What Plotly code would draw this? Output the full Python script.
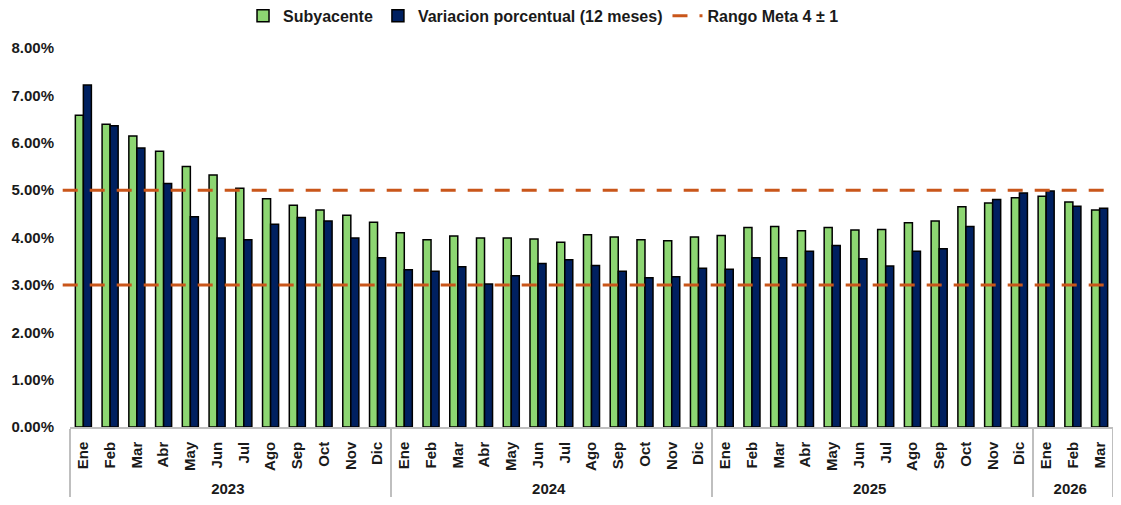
import plotly.graph_objects as go

months = ["Ene", "Feb", "Mar", "Abr", "May", "Jun", "Jul", "Ago", "Sep", "Oct", "Nov", "Dic",
          "Ene", "Feb", "Mar", "Abr", "May", "Jun", "Jul", "Ago", "Sep", "Oct", "Nov", "Dic",
          "Ene", "Feb", "Mar", "Abr", "May", "Jun", "Jul", "Ago", "Sep", "Oct", "Nov", "Dic",
          "Ene", "Feb", "Mar"]
years = ["2023"] * 12 + ["2024"] * 12 + ["2025"] * 12 + ["2026"] * 3

subyacente = [6.58, 6.39, 6.14, 5.82, 5.50, 5.32, 5.04, 4.82, 4.68, 4.58, 4.47, 4.32,
              4.10, 3.95, 4.03, 3.99, 3.99, 3.97, 3.90, 4.06, 4.01, 3.95, 3.93, 4.01,
              4.04, 4.21, 4.23, 4.14, 4.21, 4.16, 4.17, 4.31, 4.35, 4.65, 4.73, 4.84,
              4.87, 4.75, 4.58]
variacion = [7.22, 6.36, 5.89, 5.14, 4.44, 3.99, 3.95, 4.28, 4.42, 4.35, 3.99, 3.57,
             3.32, 3.29, 3.38, 3.02, 3.19, 3.45, 3.53, 3.41, 3.29, 3.15, 3.17, 3.35,
             3.33, 3.57, 3.57, 3.71, 3.83, 3.55, 3.40, 3.71, 3.76, 4.23, 4.80, 4.94,
             4.98, 4.66, 4.62]
rango_meta = [3.0, 5.0]
y_ticks = [0, 1, 2, 3, 4, 5, 6, 7, 8]
y_ticktext = [f"{v:.2f}%" for v in y_ticks]

FONT = "Liberation Sans, Arial, sans-serif"
GREEN = "#8DD672"
NAVY = "#002060"
ORANGE = "#C9561A"

fig = go.Figure()
fig.add_trace(go.Bar(
    x=[years, months], y=subyacente, name="Subyacente",
    marker=dict(color=GREEN, line=dict(color="#000000", width=1.5)),
))
fig.add_trace(go.Bar(
    x=[years, months], y=variacion, name="Variacion porcentual (12 meses)",
    marker=dict(color=NAVY, line=dict(color="#000000", width=1.5)),
))

for i, v in enumerate(rango_meta):
    fig.add_shape(
        type="line", xref="paper", yref="y", x0=-0.007, x1=1, y0=v, y1=v,
        line=dict(color=ORANGE, width=3, dash="15px,12px"),
        showlegend=(i == 0), name="Rango Meta 4 \u00b1 1", layer="above",
    )

fig.update_layout(
    width=1113, height=497,
    margin=dict(l=62, r=8, t=40, b=78, autoexpand=False),
    paper_bgcolor="white", plot_bgcolor="white",
    barmode="group", bargap=0.4, bargroupgap=0.0,
    font=dict(family=FONT, size=14, color="#1a1a1a", weight="bold"),
    legend=dict(
        orientation="h", x=0.454, xanchor="center",
        yref="container", y=0.984, yanchor="middle",
        font=dict(family=FONT, size=16, color="#1a1a1a", weight="bold"),
        bgcolor="rgba(0,0,0,0)", itemwidth=30,
    ),
    showlegend=True,
)
fig.update_xaxes(
    type="multicategory", tickangle=-90, showline=True, linecolor="#BFBFBF", linewidth=1.5,
    showdividers=True, dividercolor="#BFBFBF", dividerwidth=1.5,
    tickfont=dict(family=FONT, size=15, color="#1a1a1a", weight="bold"),
    ticks="", showgrid=False, automargin=False, ticklabelstandoff=7,
)
fig.update_yaxes(
    range=[0, 8], tickvals=y_ticks, ticktext=y_ticktext,
    showgrid=False, showline=False, zeroline=False, ticks="",
    ticklabelstandoff=15, automargin=False,
    tickfont=dict(family=FONT, size=15, color="#1a1a1a", weight="bold"),
)

fig.write_html("out.html")
